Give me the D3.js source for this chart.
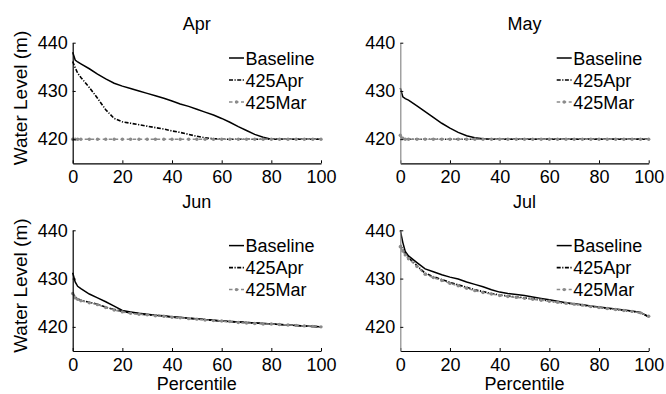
<!DOCTYPE html>
<html>
<head>
<meta charset="utf-8">
<script src="https://cdn.jsdelivr.net/npm/d3@7"></script>
<style>
  body { margin: 0; background: #fff; }
  svg { display: block; }
  text { font-family: "Liberation Sans", Arial, Helvetica, sans-serif; fill: #000; }
</style>
</head>
<body>
<div id="chart"></div>
<script>
// data
const percentiles = [0, 1, 2, 3.3, 6.7, 10, 13.3, 16.7, 20, 23.3, 26.7, 30, 33.3, 36.7, 40, 43.3, 46.7,
  50, 53.3, 56.7, 60, 63.3, 66.7, 70, 73.3, 76.7, 80, 83.3, 86.7, 90, 93.3, 96.7, 100];

const months = ["Apr", "May", "Jun", "Jul"];
const seriesNames = ["Baseline", "425Apr", "425Mar"];
const xTicks = [0, 20, 40, 60, 80, 100];
const yTicks = [420, 430, 440];

const aprBaseline = [438.0, 436.4, 436.0, 435.6, 434.6, 433.5, 432.5, 431.6, 431.0, 430.5, 430.0, 429.5, 429.0,
  428.5, 427.9, 427.3, 426.8, 426.2, 425.6, 425.0, 424.3, 423.5, 422.6, 421.8, 421.0, 420.4, 420.0,
  420, 420, 420, 420, 420, 420];
const apr425Apr = [436.1, 434.8, 433.7, 432.8, 430.7, 428.5, 426.1, 424.3, 423.6, 423.3, 423.0, 422.7, 422.4,
  422.1, 421.7, 421.4, 421.0, 420.6, 420.3, 420.1, 420.0,
  420, 420, 420, 420, 420, 420, 420, 420, 420, 420, 420, 420];
const apr425Mar = [420, 420, 420, 420, 420, 420, 420, 420, 420, 420, 420, 420, 420, 420, 420, 420, 420,
  420, 420, 420, 420, 420, 420, 420, 420, 420, 420, 420, 420, 420, 420, 420, 420];

const mayBaseline = [430.6, 428.8, 428.4, 428.1, 426.9, 425.7, 424.5, 423.3, 422.3, 421.4, 420.7, 420.3, 420.1,
  420.0, 420, 420, 420, 420, 420, 420, 420, 420, 420, 420, 420, 420, 420, 420, 420, 420, 420, 420, 420];
const may425Apr = [420.7, 420, 420, 420, 420, 420, 420, 420, 420, 420, 420, 420, 420, 420, 420, 420, 420,
  420, 420, 420, 420, 420, 420, 420, 420, 420, 420, 420, 420, 420, 420, 420, 420];
const may425Mar = [420.8, 420.2, 420, 420, 420, 420, 420, 420, 420, 420, 420, 420, 420, 420, 420, 420, 420,
  420, 420, 420, 420, 420, 420, 420, 420, 420, 420, 420, 420, 420, 420, 420, 420];

const junBaseline = [431.2, 429.3, 428.4, 427.9, 426.8, 426.0, 425.2, 424.3, 423.4, 423.1, 422.8, 422.6, 422.4,
  422.3, 422.1, 422.0, 421.8, 421.7, 421.5, 421.4, 421.2, 421.1, 421.0, 420.9, 420.8, 420.7, 420.6,
  420.5, 420.4, 420.3, 420.2, 420.1, 420.0];
const jun425Apr = [427.0, 426.2, 425.8, 425.5, 425.1, 424.7, 424.1, 423.6, 423.2, 422.9, 422.7, 422.5, 422.4,
  422.2, 422.0, 421.9, 421.8, 421.6, 421.5, 421.3, 421.2, 421.1, 421.0, 420.9, 420.8, 420.7, 420.6,
  420.5, 420.4, 420.3, 420.2, 420.1, 420.0];
const jun425Mar = [426.9, 426.0, 425.7, 425.4, 425.0, 424.6, 424.0, 423.5, 423.1, 422.8, 422.6, 422.5, 422.3,
  422.2, 422.0, 421.9, 421.7, 421.6, 421.4, 421.3, 421.2, 421.1, 420.9, 420.8, 420.7, 420.6, 420.6,
  420.5, 420.4, 420.3, 420.2, 420.1, 420.0];

const julBaseline = [440.0, 437.5, 435.6, 434.7, 433.3, 432.0, 431.4, 430.8, 430.3, 429.9, 429.3, 428.8, 428.3,
  427.7, 427.2, 426.9, 426.7, 426.5, 426.2, 425.9, 425.6, 425.3, 425.0, 424.8, 424.6, 424.3, 424.1,
  423.9, 423.7, 423.5, 423.3, 423.0, 422.1];
const jul425Apr = [437.0, 436.0, 435.2, 434.3, 432.7, 431.1, 430.4, 429.8, 429.2, 428.7, 428.2, 427.7, 427.3,
  426.9, 426.6, 426.4, 426.2, 426.0, 425.8, 425.6, 425.4, 425.1, 424.9, 424.7, 424.5, 424.2, 424.0,
  423.8, 423.6, 423.4, 423.2, 422.9, 422.1];
const jul425Mar = [436.6, 435.7, 434.9, 434.1, 432.5, 430.9, 430.2, 429.6, 429.0, 428.5, 428.0, 427.5, 427.1,
  426.8, 426.5, 426.3, 426.1, 425.9, 425.7, 425.5, 425.3, 425.1, 424.9, 424.7, 424.5, 424.2, 424.0,
  423.8, 423.6, 423.4, 423.2, 422.9, 422.2];

const monthSeries = {
  Apr: [aprBaseline, apr425Apr, apr425Mar],
  May: [mayBaseline, may425Apr, may425Mar],
  Jun: [junBaseline, jun425Apr, jun425Mar],
  Jul: [julBaseline, jul425Apr, jul425Mar]
};

// layout
const W = 666, H = 394;
const gray = "#8a8a8a";
const panels = [
  { left: 72.7, right: 321, top: 42.7, bottom: 163.3, titleY: 29.5, ylabel: true, xlabel: false, axisCol: "#000" },
  { left: 400.3, right: 648.7, top: 42.7, bottom: 163.3, titleY: 29.5, ylabel: false, xlabel: false, axisCol: gray },
  { left: 72.7, right: 321, top: 230.3, bottom: 351, titleY: 207.5, ylabel: true, xlabel: true, axisCol: "#000" },
  { left: 400.3, right: 648.7, top: 230.3, bottom: 351, titleY: 207.5, ylabel: false, xlabel: true, axisCol: gray }
];

const styles = [
  { stroke: "#000", dash: null, width: 1.5 },
  { stroke: "#000", dash: "4,1.5,1.2,1.5", width: 1.6 },
  { stroke: gray, dash: "3.5,2.5", width: 1.5 }
];

const svg = d3.select("#chart").append("svg")
  .attr("width", W).attr("height", H);

months.forEach((m, i) => {
  const p = panels[i];
  const x = d3.scaleLinear().domain([0, 100]).range([p.left, p.right]);
  const y = d3.scaleLinear().domain([415, 440]).range([p.bottom, p.top]);

  const g = svg.append("g");
  const clipId = "clip" + i;
  svg.append("clipPath").attr("id", clipId)
    .append("rect")
    .attr("x", p.left - 3).attr("y", p.top - 3)
    .attr("width", p.right - p.left + 6).attr("height", p.bottom - p.top + 3);

  // lines
  const line = d3.line().x((d, k) => x(percentiles[k])).y(d => y(d));
  const lines = g.append("g").attr("clip-path", `url(#${clipId})`);
  monthSeries[m].forEach((vals, s) => {
    lines.append("path")
      .attr("d", line(vals))
      .attr("fill", "none")
      .attr("stroke", styles[s].stroke)
      .attr("stroke-width", styles[s].width)
      .attr("stroke-dasharray", styles[s].dash);
    if (s === 2) {
      lines.selectAll(null).data(vals).join("circle")
        .attr("cx", (d, k) => x(percentiles[k]))
        .attr("cy", d => y(d))
        .attr("r", 1.7)
        .attr("fill", gray);
    }
  });

  // axes, ticks inward
  const xAxis = g.append("g").attr("transform", `translate(0,${p.bottom})`)
    .call(d3.axisBottom(x).tickValues(xTicks).tickSizeInner(-3).tickSizeOuter(0).tickPadding(7));
  const yAxis = g.append("g").attr("transform", `translate(${p.left},0)`)
    .call(d3.axisLeft(y).tickValues(yTicks).tickSizeInner(-3).tickSizeOuter(0).tickPadding(5));
  [xAxis, yAxis].forEach(a => {
    a.selectAll("text").style("font-size", "18px").attr("fill", "#000");
    a.selectAll("line").attr("stroke", "#000");
  });
  xAxis.select(".domain").attr("stroke", "#000").attr("stroke-width", 1.2);
  yAxis.select(".domain").attr("stroke", p.axisCol).attr("stroke-width", 1.2);

  // title
  g.append("text")
    .attr("x", (p.left + p.right) / 2).attr("y", p.titleY)
    .attr("text-anchor", "middle").style("font-size", "18px")
    .text(m);

  if (p.ylabel) {
    g.append("text")
      .attr("transform", `translate(27,${(p.top + p.bottom) / 2 - 5}) rotate(-90)`)
      .attr("text-anchor", "middle").style("font-size", "19px")
      .text("Water Level (m)");
  }
  if (p.xlabel) {
    g.append("text")
      .attr("x", (p.left + p.right) / 2).attr("y", 389.5)
      .attr("text-anchor", "middle").style("font-size", "18px")
      .text("Percentile");
  }

  // legend
  const lg = g.append("g").attr("transform", `translate(${p.right - 92},${p.top + 15.3})`);
  seriesNames.forEach((name, s) => {
    const row = lg.append("g").attr("transform", `translate(0,${s * 22})`);
    row.append("line")
      .attr("x1", 0).attr("x2", 15).attr("y1", 0).attr("y2", 0)
      .attr("stroke", styles[s].stroke)
      .attr("stroke-width", styles[s].width)
      .attr("stroke-dasharray", styles[s].dash);
    if (s === 2) {
      row.append("circle").attr("cx", 7.5).attr("cy", 0).attr("r", 1.7).attr("fill", gray);
    }
    row.append("text")
      .attr("x", 16.5).attr("y", 6.5)
      .style("font-size", "18px")
      .text(name);
  });
});
</script>
</body>
</html>
